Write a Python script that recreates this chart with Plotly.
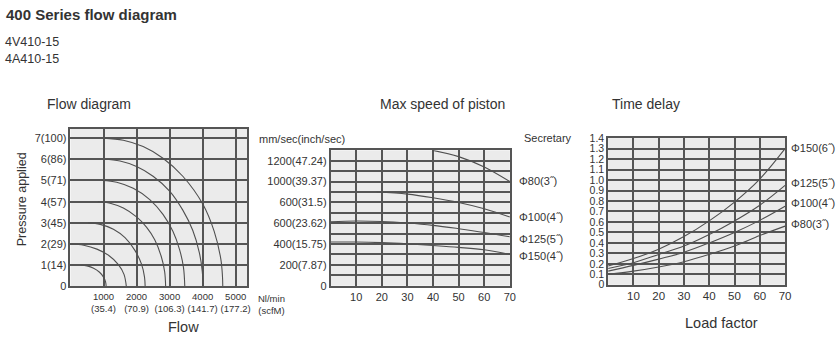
import plotly.graph_objects as go

W, H = 840, 363
FONT = "Liberation Sans, Arial, sans-serif"
TXT = "#333333"
GRID = "#555555"
CURVE = "#505050"
BG = "#ebebeb"

# ---------------- Chart 1: Flow diagram ----------------
flow_ticks = [1000, 2000, 3000, 4000, 5000]
flow_tick_text = ["1000<br>(35.4)", "2000<br>(70.9)", "3000<br>(106.3)", "4000<br>(141.7)", "5000<br>(177.2)"]
press_ticks = [0, 1, 2, 3, 4, 5, 6, 7]
press_tick_text = ["0", "1(14)", "2(29)", "3(45)", "4(57)", "5(71)", "6(86)", "7(100)"]

p1_flow = [310, 500, 700, 880, 1000, 1060, 1080]
p1_press = [1.0, 0.97, 0.86, 0.67, 0.44, 0.23, 0.0]
p2_flow = [0, 400, 800, 1150, 1450, 1620, 1690]
p2_press = [2.0, 1.94, 1.76, 1.47, 1.03, 0.57, 0.0]
p3_flow = [530, 900, 1300, 1650, 1950, 2150, 2240, 2260]
p3_press = [3.0, 2.93, 2.7, 2.3, 1.7, 1.05, 0.45, 0.0]
p4_flow = [830, 1200, 1600, 2000, 2300, 2550, 2750, 2850, 2880]
p4_press = [4.0, 3.93, 3.7, 3.28, 2.8, 2.2, 1.4, 0.7, 0.0]
p5_flow = [960, 1400, 1900, 2400, 2800, 3100, 3300, 3420, 3460]
p5_press = [5.0, 4.92, 4.63, 4.1, 3.4, 2.6, 1.75, 0.9, 0.0]
p6_flow = [1010, 1500, 2000, 2500, 3000, 3400, 3700, 3900, 3990, 4010]
p6_press = [6.0, 5.92, 5.66, 5.2, 4.5, 3.6, 2.65, 1.6, 0.7, 0.0]
p7_flow = [1000, 1600, 2200, 2800, 3400, 4000, 4350, 4550, 4600, 4610]
p7_press = [7.0, 6.9, 6.6, 6.05, 5.2, 3.9, 2.6, 1.3, 0.5, 0.0]

# ---------------- Chart 2: Max speed of piston ----------------
speed_x_ticks = [10, 20, 30, 40, 50, 60, 70]
speed_y_ticks = [0, 100, 200, 300, 400, 500, 600, 700, 800, 900, 1000, 1100, 1200, 1300]
speed_y_text = ["0", "", "200(7.87)", "", "400(15.75)", "", "600(23.62)", "",
                "600(31.5)", "", "1000(39.37)", "", "1200(47.24)", ""]
phi80_x = [40, 50, 60, 70]
phi80_v = [1300, 1240, 1140, 1000]
phi100_x = [18, 30, 40, 50, 60, 70]
phi100_v = [900, 880, 845, 800, 740, 660]
phi125_x = [0, 10, 20, 30, 40, 50, 60, 70]
phi125_v = [615, 622, 617, 602, 580, 548, 512, 470]
phi150_x = [0, 10, 20, 30, 40, 50, 60, 70]
phi150_v = [420, 420, 414, 402, 386, 368, 345, 300]
speed_labels = ["\u03a680(3\u02dd)", "\u03a6100(4\u02dd)", "\u03a6125(5\u02dd)", "\u03a6150(4\u02dd)"]

# ---------------- Chart 3: Time delay ----------------
delay_x_ticks = [10, 20, 30, 40, 50, 60, 70]
delay_y_ticks = [0, 0.1, 0.2, 0.3, 0.4, 0.5, 0.6, 0.7, 0.8, 0.9, 1.0, 1.1, 1.2, 1.3, 1.4]
delay_y_text = ["0", "0.1", "0.2", "0.3", "0.4", "0.5", "0.6", "0.7", "0.8", "0.9",
                "1.0", "1.1", "1.2", "1.3", "1.4"]
load = [0, 10, 20, 30, 40, 50, 60, 70]
d150 = [0.18, 0.25, 0.34, 0.46, 0.61, 0.79, 1.01, 1.30]
d125 = [0.155, 0.21, 0.29, 0.37, 0.48, 0.61, 0.76, 0.95]
d100 = [0.13, 0.185, 0.245, 0.31, 0.40, 0.50, 0.615, 0.75]
d80 = [0.10, 0.13, 0.17, 0.22, 0.29, 0.37, 0.47, 0.56]
delay_labels = ["\u03a6150(6\u02dd)", "\u03a6125(5\u02dd)", "\u03a6100(4\u02dd)", "\u03a680(3\u02dd)"]


def xd(a, b):
    return [a / W, b / W]


def yd(top, bottom):
    return [1 - bottom / H, 1 - top / H]


fig = go.Figure()

line_style = dict(color=CURVE, width=1.1, shape="spline", smoothing=1.0)

for fx, py in [(p1_flow, p1_press), (p2_flow, p2_press), (p3_flow, p3_press),
               (p4_flow, p4_press), (p5_flow, p5_press), (p6_flow, p6_press),
               (p7_flow, p7_press)]:
    fig.add_trace(go.Scatter(x=fx, y=py, mode="lines", line=line_style,
                             xaxis="x", yaxis="y", showlegend=False, hoverinfo="skip"))

for sx, sv in [(phi80_x, phi80_v), (phi100_x, phi100_v), (phi125_x, phi125_v), (phi150_x, phi150_v)]:
    fig.add_trace(go.Scatter(x=sx, y=sv, mode="lines", line=line_style,
                             xaxis="x2", yaxis="y2", showlegend=False, hoverinfo="skip"))

for dv in [d150, d125, d100, d80]:
    fig.add_trace(go.Scatter(x=load, y=dv, mode="lines", line=line_style,
                             xaxis="x3", yaxis="y3", showlegend=False, hoverinfo="skip"))

axis_common = dict(showgrid=True, gridcolor=GRID, gridwidth=1.6, zeroline=False,
                   showline=True, linecolor=GRID, linewidth=1.6, mirror=True,
                   ticks="", fixedrange=True, tickfont=dict(family=FONT, color=TXT, size=11))

fig.update_layout(
    width=W, height=H, margin=dict(l=0, r=0, t=0, b=0),
    paper_bgcolor="white", plot_bgcolor=BG,
    font=dict(family=FONT, color=TXT),
    xaxis=dict(axis_common, domain=xd(71, 249), range=[0, 5350], anchor="y",
               tickmode="array", tickvals=flow_ticks, ticktext=flow_tick_text,
               tickfont=dict(family=FONT, color=TXT, size=9.5)),
    yaxis=dict(axis_common, domain=yd(127, 290), range=[0, 7.44], anchor="x",
               tickmode="array", tickvals=press_ticks, ticktext=press_tick_text),
    xaxis2=dict(axis_common, domain=xd(333, 513.5), range=[0, 70], anchor="y2",
                tickmode="array", tickvals=speed_x_ticks),
    yaxis2=dict(axis_common, domain=yd(149.3, 289.3), range=[0, 1300], anchor="x2",
                tickmode="array", tickvals=speed_y_ticks, ticktext=speed_y_text),
    xaxis3=dict(axis_common, domain=xd(612.5, 790.7), range=[0, 70], anchor="y3",
                tickmode="array", tickvals=delay_x_ticks,
                tickfont=dict(family=FONT, color=TXT, size=11.5)),
    yaxis3=dict(axis_common, domain=yd(136.7, 288.3), range=[0, 1.4], anchor="x3",
                tickmode="array", tickvals=delay_y_ticks, ticktext=delay_y_text,
                tickfont=dict(family=FONT, color=TXT, size=10.5)),
)


def ann(text, x, y, size, xanchor="left", yanchor="middle", bold=False, angle=0):
    if bold:
        text = "<b>" + text + "</b>"
    fig.add_annotation(text=text, x=x / W, y=1 - y / H, xref="paper", yref="paper",
                       xanchor=xanchor, yanchor=yanchor, showarrow=False, textangle=angle,
                       font=dict(family=FONT, size=size, color=TXT))


ann("400 Series flow diagram", 4, 8.5, 15, bold=True)
ann("4V410-15", 3, 37, 12.5)
ann("4A410-15", 3, 55, 12.5)
ann("Flow diagram", 90, 101, 14, xanchor="center")
ann("Max speed of piston", 446, 101, 14, xanchor="center")
ann("Time delay", 651, 101.5, 14, xanchor="center")
ann("Pressure applied", 23, 200, 12.5, xanchor="center", angle=-90)
ann("Flow", 185, 332, 14.5, xanchor="center")
ann("Nl/min<br>(scfM)", 258, 308.5, 9.5)
ann("mm/sec(inch/sec)", 259, 137.3, 11)
ann("Secretary", 526, 136, 11)
for lbl, yy in zip(speed_labels, [180.7, 218.3, 240.7, 258.3]):
    ann(lbl, 521, yy, 11)
for lbl, yy in zip(delay_labels, [147.3, 183.3, 204, 225.7]):
    ann(lbl, 795, yy, 11)
ann("Load factor", 727, 328, 14.5, xanchor="center")

fig.write_html("out.html")
